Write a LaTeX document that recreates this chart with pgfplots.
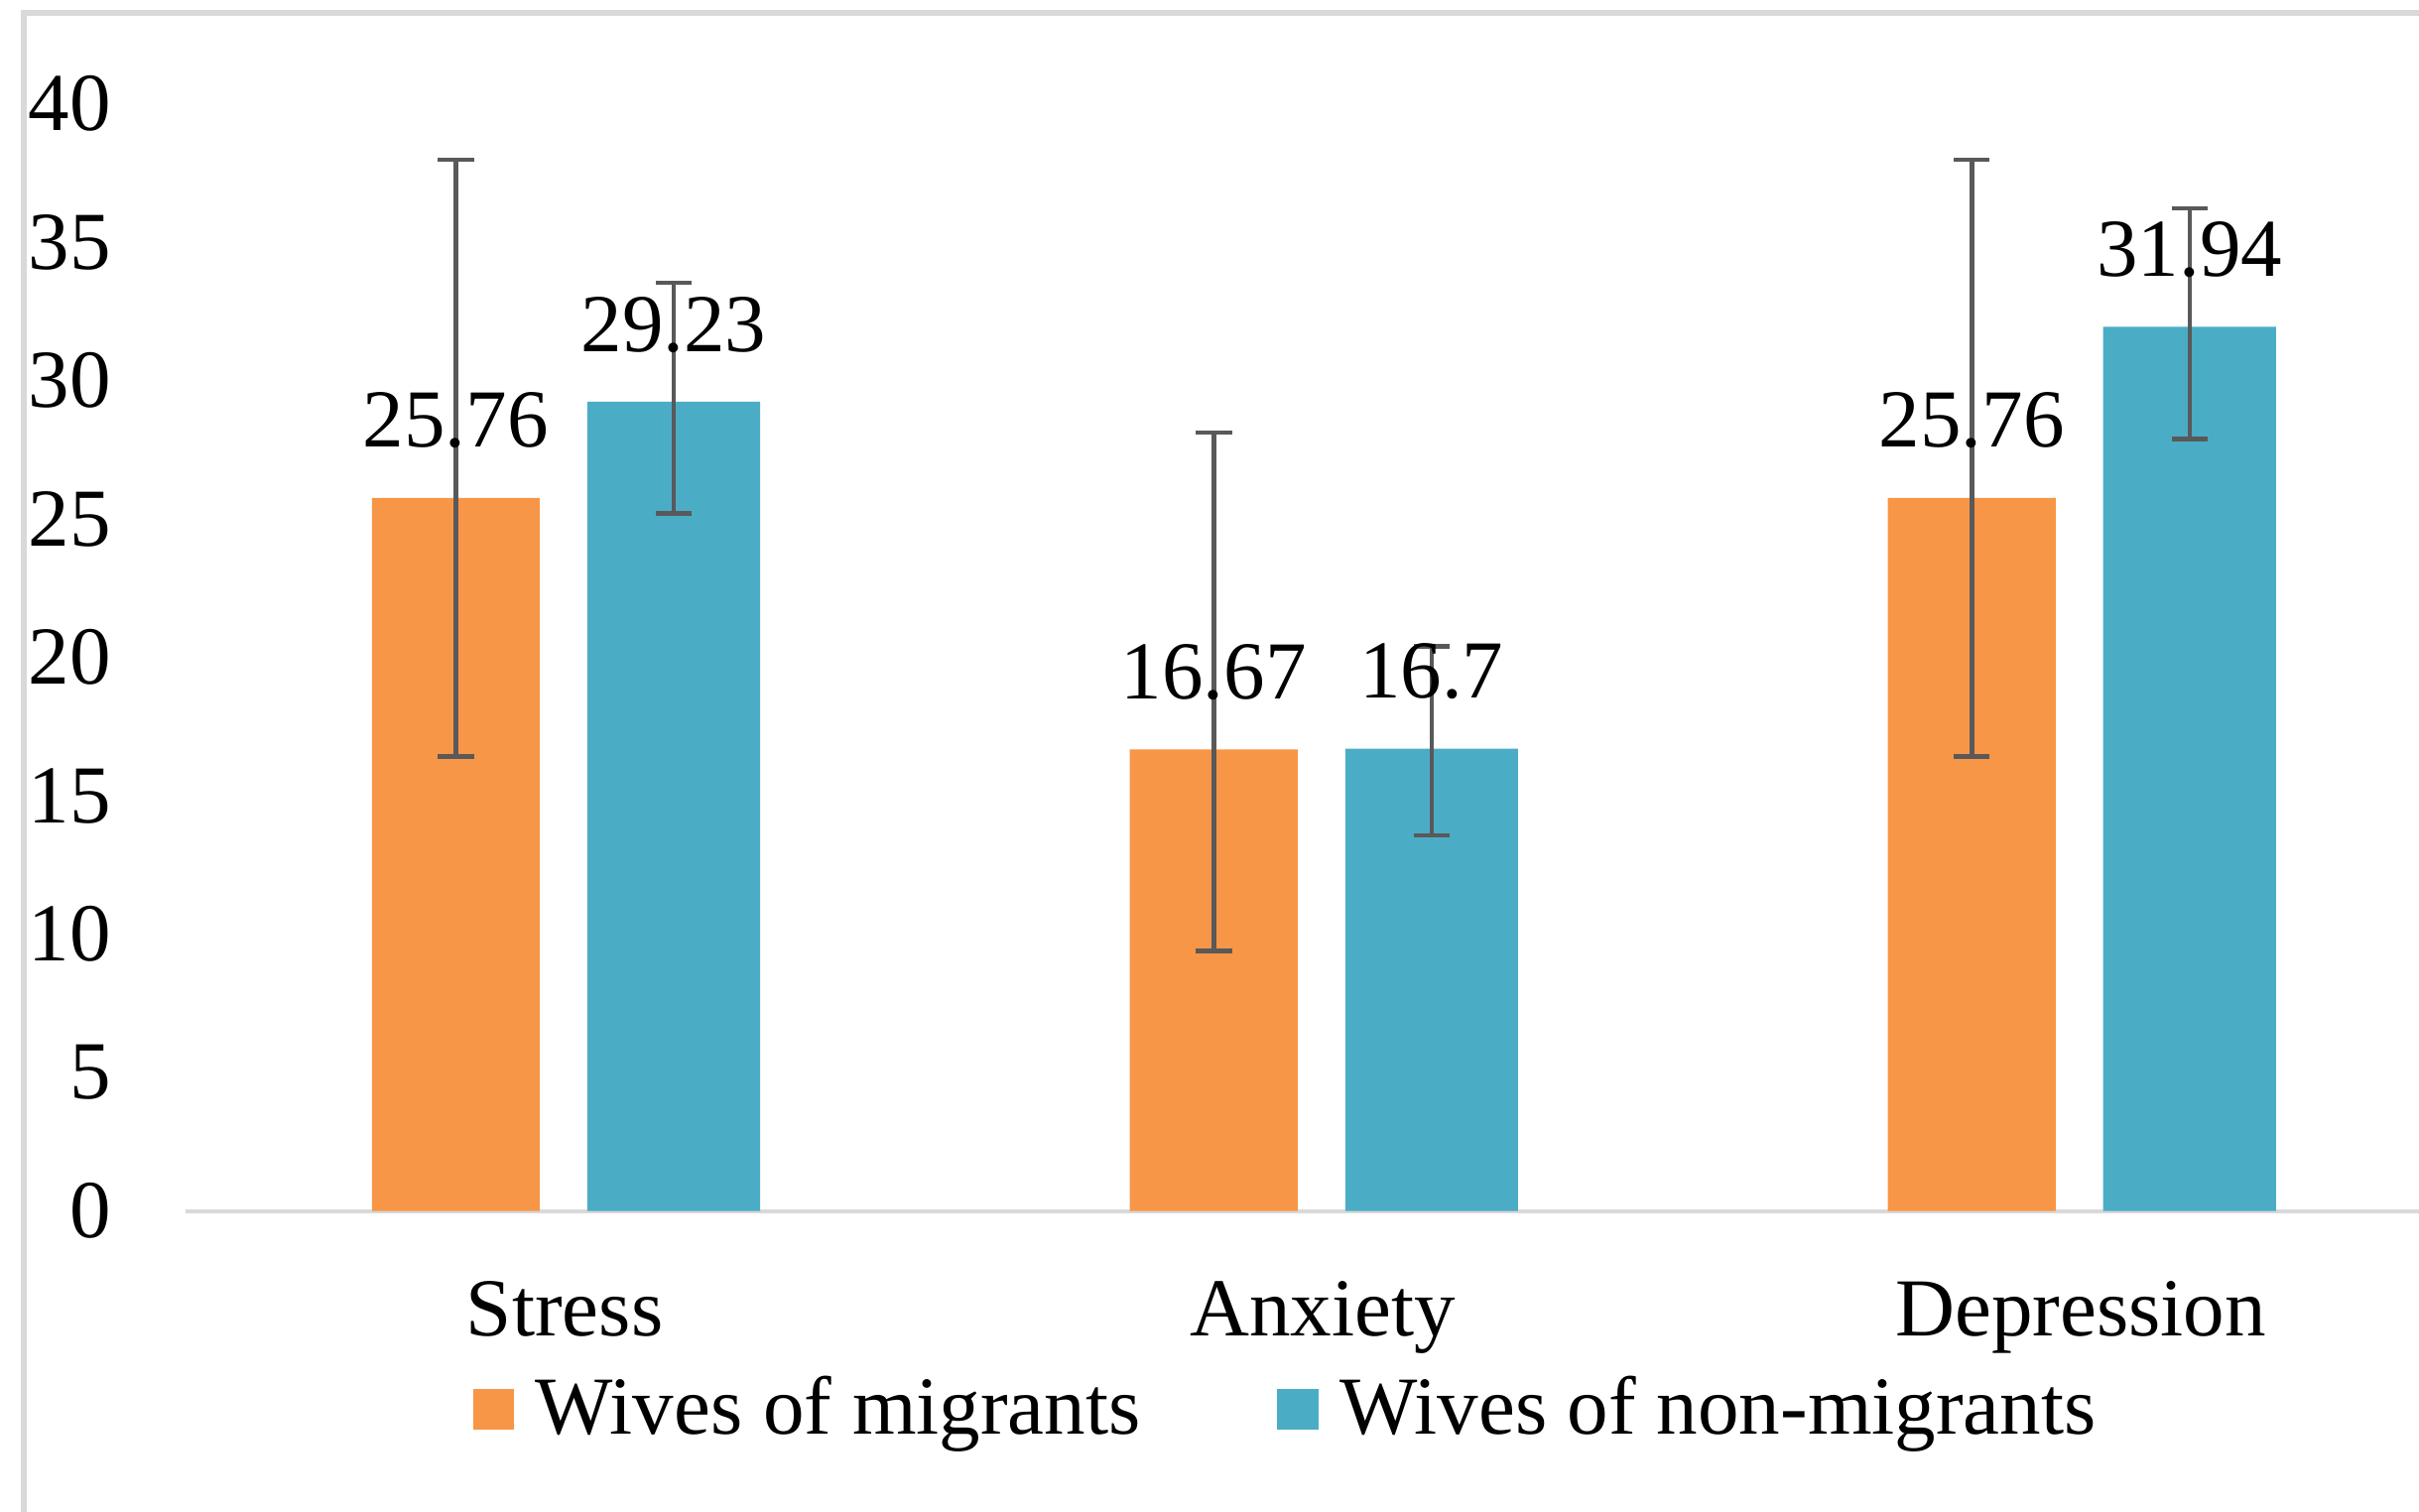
\documentclass[border=0pt]{standalone}
\usepackage{pgfplots}
\pgfplotsset{compat=1.18}
\usepackage{fontspec}
\setmainfont{Liberation Serif}
\definecolor{cOrange}{HTML}{F79646}
\definecolor{cBlue}{HTML}{4BACC6}
\definecolor{cErr}{HTML}{595959}
\definecolor{cGrid}{HTML}{D9D9D9}
\begin{document}
\begin{tikzpicture}[font=\fontsize{15.5}{18}\selectfont]
\path[use as bounding box, clip] (0,0) rectangle (455.2pt,284.5pt);
\draw[cGrid, line width=1.1pt] (4.4pt,-20pt) rectangle (480pt,282.1pt);
\begin{axis}[
  at={(34.95pt,56.6pt)}, anchor=south west,
  width=427.9pt, height=208.4pt, scale only axis,
  xmin=-0.5, xmax=2.5, ymin=0, ymax=40,
  xtick={0,1,2}, xticklabels={Stress,Anxiety,Depression},
  ytick={0,5,...,40},
  separate axis lines,
  axis x line*=bottom, axis y line*=left,
  x axis line style={cGrid, line width=0.75pt, -},
  y axis line style={draw=none},
  major tick length=0pt,
  tick style={draw=none},
  yticklabel style={anchor=east, inner sep=0pt, xshift=-13.9pt},
  xticklabel style={anchor=base, inner sep=0pt, yshift=-23.5pt},
  /pgf/number format/assume math mode=true,
  clip=false,
  legend columns=2,
  legend style={draw=none, fill=none, at={(0.1258,-0.179)}, anchor=west,
    inner sep=0pt, /tikz/every even column/.append style={column sep=23.7pt}},
  nodes near coords={\pgfmathprintnumber{\pgfplotspointmeta}},
  nodes near coords style={anchor=base, inner sep=0pt, yshift=9.5pt, black},
  error bars/error bar style={cErr, line width=0.85pt},
  error bars/error mark options={cErr, rotate=90, mark size=3.4pt, line width=0.85pt},
]
% bars placed at category index -/+ 0.1437 (orange / blue)
\addplot[ybar, bar width=0.2215, bar shift=0pt, fill=cOrange, draw=none,
  legend image code/.code={\fill[cOrange] (0pt,-3.9pt) rectangle (7.8pt,3.9pt); \path (9.8pt,0pt);},
  error bars/.cd, y dir=both, y explicit]
  coordinates {
    (-0.1437,25.76) += (0,12.22) -= (0,9.34)
    (0.8563,16.67) += (0,11.45) -= (0,7.28)
    (1.8563,25.76) += (0,12.22) -= (0,9.34)
  };
\addlegendentry{Wives of migrants}
\addplot[ybar, bar width=0.228, bar shift=0pt, fill=cBlue, draw=none,
  legend image code/.code={\fill[cBlue] (0pt,-3.9pt) rectangle (7.8pt,3.9pt); \path (9.8pt,0pt);},
  error bars/.cd, y dir=both, y explicit]
  coordinates {
    (0.1437,29.23) += (0,4.30) -= (0,4.03)
    (1.1437,16.7) += (0,3.70) -= (0,3.13)
    (2.1437,31.94) += (0,4.28) -= (0,4.05)
  };
\addlegendentry{Wives of non-migrants}
\end{axis}
\end{tikzpicture}
\end{document}
